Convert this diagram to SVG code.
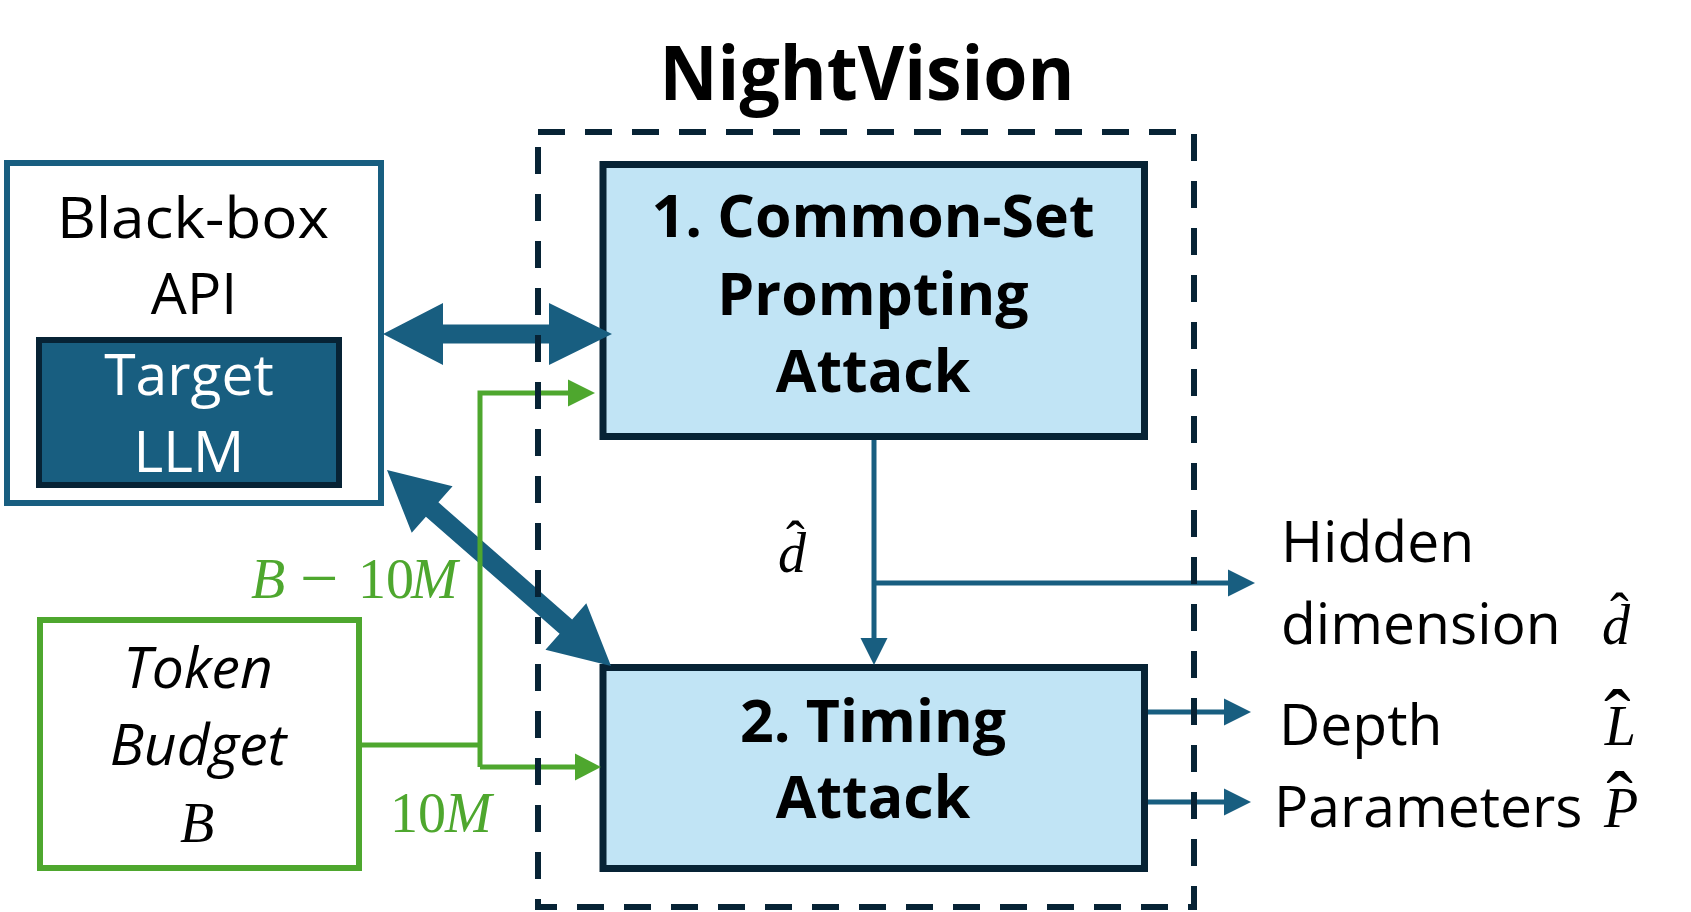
<svg xmlns="http://www.w3.org/2000/svg" width="1691" height="912" viewBox="0 0 1691 912">
<style>
  text{font-family:"Open Sans","Liberation Sans",sans-serif;fill:#000;text-anchor:middle;}
  .r{font-size:57px;}
  .b{font-size:59px;font-weight:bold;}
  .it{font-size:57px;font-style:italic;}
  .w{fill:#fff;}
  .m{font-family:"Liberation Serif","DejaVu Serif",serif;font-style:italic;font-size:56px;text-anchor:start;}
  .mu{font-family:"Liberation Serif","DejaVu Serif",serif;font-style:normal;font-size:56px;text-anchor:start;}
  .hat{font-style:normal;}
  .g{fill:#4ea72e;}
  .l{text-anchor:start;}
  .step{fill:#c1e4f5;stroke:#072335;stroke-width:7;}
  .bl{fill:none;stroke:#185e80;stroke-width:5;}
  .bf{fill:#185e80;stroke:none;}
  .gl{fill:none;stroke:#4ea72e;stroke-width:5;}
  .gf{fill:#4ea72e;stroke:none;}
</style>
<rect width="1691" height="912" fill="#fff"/>

<text x="867" y="100" style="font-size:75px;font-weight:bold" textLength="415" lengthAdjust="spacingAndGlyphs">NightVision</text>

<g id="blackbox-api">
  <rect x="7" y="163" width="374" height="340" fill="#fff" stroke="#185e80" stroke-width="6"/>
  <text class="r" x="193" y="238" textLength="272" lengthAdjust="spacingAndGlyphs">Black-box</text>
  <text class="r" x="194" y="314">API</text>
</g>
<g id="target-llm">
  <rect x="39" y="340" width="300" height="145" fill="#185e80" stroke="#072335" stroke-width="6"/>
  <text class="r w" x="189" y="395">Target</text>
  <text class="r w" x="189" y="472">LLM</text>
</g>
<g id="token-budget">
  <rect x="40" y="620" width="319" height="248" fill="#fff" stroke="#4ea72e" stroke-width="6"/>
  <text class="it" x="198" y="688">Token</text>
  <text class="it" x="198" y="765">Budget</text>
  <text class="m" x="180" y="842">B</text>
</g>
<g id="common-set">
  <rect class="step" x="603" y="164.5" width="541.5" height="272"/>
  <text class="b" x="873" y="237">1. Common-Set</text>
  <text class="b" x="873" y="315">Prompting</text>
  <text class="b" x="873" y="392">Attack</text>
</g>
<g id="timing">
  <rect class="step" x="603" y="667.5" width="541.5" height="201"/>
  <text class="b" x="873" y="742">2. Timing</text>
  <text class="b" x="873" y="818">Attack</text>
</g>

<g id="connectors">
  <polygon class="bf" points="383,334 443,303 443,324.5 549,324.5 549,303 612,334 549,365 549,343.5 443,343.5 443,365"/>
  <polygon class="bf" transform="translate(387,470) rotate(41.19)" points="0,0 60,-31 60,-9.5 237.7,-9.5 237.7,-31 297.7,0 237.7,31 237.7,9.5 60,9.5 60,31"/>
  <line class="bl" x1="874" y1="440" x2="874" y2="640"/>
  <polygon class="bf" points="860.5,638 887.5,638 874,665"/>
  <line class="bl" x1="874" y1="583" x2="1229" y2="583"/>
  <polygon class="bf" points="1228,569.5 1228,596.5 1255,583"/>
  <line class="bl" x1="1148" y1="712" x2="1225" y2="712"/>
  <polygon class="bf" points="1224,698.5 1224,725.5 1251,712"/>
  <line class="bl" x1="1148" y1="802" x2="1225" y2="802"/>
  <polygon class="bf" points="1224,788.5 1224,815.5 1251,802"/>
  <polyline class="gl" points="362,745 480,745"/>
  <polyline class="gl" points="480,767 480,393 569,393"/>
  <polygon class="gf" points="568,379.5 568,406.5 595,393"/>
  <polyline class="gl" points="480,767 576,767"/>
  <polygon class="gf" points="575,753.5 575,780.5 601,767"/>
  <text class="m g" x="251" y="598">B<tspan class="hat" x="300" dy="3" style="font-size:68px">−</tspan><tspan class="hat" x="358" dy="-3">10</tspan><tspan x="411">M</tspan></text>
  <text class="mu g" x="390" y="832">10<tspan style="font-style:italic" x="445">M</tspan></text>
  <text class="m" x="778" y="572">d<tspan class="hat" dx="-20" dy="-12">ˆ</tspan></text>
</g>

<g id="outputs">
  <text class="r l" x="1281" y="562">Hidden</text>
  <text class="r l" x="1281" y="644">dimension</text>
  <text class="m" x="1602" y="644">d<tspan class="hat" dx="-20" dy="-12">ˆ</tspan></text>
  <text class="r l" x="1279" y="745">Depth</text>
  <text class="m" x="1604" y="745">L<tspan class="hat" dx="-32" dy="0" style="font-size:80px">ˆ</tspan></text>
  <text class="r l" x="1274" y="827">Parameters</text>
  <text class="m" x="1604" y="827">P<tspan class="hat" dx="-32" dy="0" style="font-size:80px">ˆ</tspan></text>
</g>

<g id="nightvision-frame">
  <rect x="538" y="132" width="656" height="775" fill="none" stroke="#072335" stroke-width="6" stroke-dasharray="27 20"/>
</g>
</svg>
